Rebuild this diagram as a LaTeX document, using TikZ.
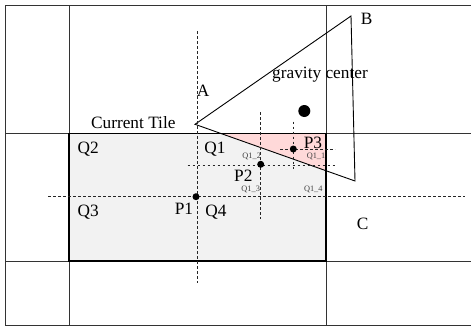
\documentclass[tikz,border=0pt]{standalone}
\usepackage{fontspec}
\setmainfont{Liberation Serif}
\begin{document}
\begin{tikzpicture}[x=1pt,y=-1pt,
  grid/.style={draw=black!80,line width=0.9pt},
  tile/.style={draw=black,line width=1.4pt,fill=black!5},
  dline/.style={draw=black!85,line width=0.7pt,dash pattern=on 2.5pt off 2.5pt},
  tri/.style={draw=black,line width=0.9pt},
  lbl/.style={font=\fontsize{17.3}{19}\selectfont,inner sep=0pt},
  small/.style={font=\fontsize{8.3}{9}\selectfont,text=black!75,inner sep=0pt},
  dot/.style={circle,fill=black,inner sep=0pt,minimum size=7pt}]
\useasboundingbox (0,0) rectangle (471,327);
% current tile
\draw[tile] (69,133.3) rectangle (326,261);
% pink region
\coordinate (A) at (195,124.3);
\coordinate (B) at (351,16);
\coordinate (C) at (355,181);
\fill[red!15] (220.5,133.3) -- (326,133.3) -- (326,170.5) -- cycle;
% grid
\draw[grid] (5,5) -- (471,5);
\draw[grid] (5,133.3) -- (471,133.3);
\draw[grid] (5,261) -- (471,261);
\draw[grid] (5,325) -- (471,325);
\draw[grid] (5,5) -- (5,325);
\draw[grid] (69,5) -- (69,325);
\draw[grid] (326,5) -- (326,325);
\draw[tile,fill=none] (69,133.3) rectangle (326,261);
% triangle
\draw[tri] (A) -- (B) -- (C) -- cycle;
% dashed lines
\draw[dline] (197.3,31) -- (197.3,283);
\draw[dline] (48,196.7) -- (465,196.7);
\draw[dline] (187.7,165) -- (335,165);
\draw[dline] (260.7,112) -- (260.7,219);
\draw[dline] (280,149) -- (335,149);
\draw[dline] (293.3,121.7) -- (293.3,171);
% dots
\node[dot] (p1) at (196,196.7) {};
\node[dot] (p2) at (260.7,164.3) {};
\node[dot] (p3) at (293.3,149) {};
\node[dot,minimum size=12pt] (gc) at (304.3,111) {};
% labels
\node[lbl] (lB) at (366.7,19.3) {B};
\node[lbl] (lgc) at (320,75) {gravity center};
\node[lbl] (lA) at (203,90.7) {A};
\node[lbl] (lct) at (133.3,122.7) {Current Tile};
\node[lbl] (lq2) at (88.3,149) {Q2};
\node[lbl] (lq1) at (215,149) {Q1};
\node[lbl] (lp3) at (313,143) {P3};
\node[small] (q11) at (316,156) {Q1\_1};
\node[small] (q12) at (251.7,156) {Q1\_2};
\node[lbl] (lp2) at (243.3,176) {P2};
\node[small] (q13) at (250.7,189.3) {Q1\_3};
\node[small] (q14) at (313.3,189.3) {Q1\_4};
\node[lbl] (lp1) at (184,208.3) {P1};
\node[lbl] (lq4) at (216,211.7) {Q4};
\node[lbl] (lq3) at (88.3,211.7) {Q3};
\node[lbl] (lC) at (362.7,224) {C};
\end{tikzpicture}
\end{document}
